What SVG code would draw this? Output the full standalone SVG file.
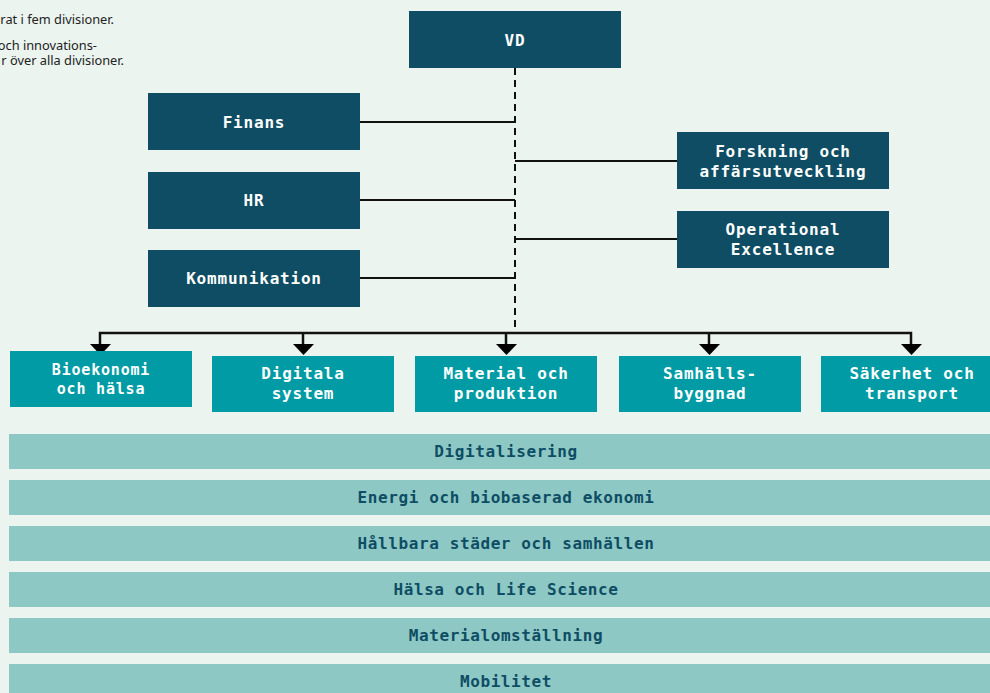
<svg xmlns="http://www.w3.org/2000/svg" width="990" height="693" viewBox="0 0 990 693">
<defs>
<style>
.bg{fill:#EBF4EF}
.dark{fill:#0E4D63}
.div{fill:#009BA4}
.band{fill:#8DC8C5}
.t{font-family:"DejaVu Sans Mono","Liberation Mono",monospace;font-weight:bold;font-size:16px;letter-spacing:0.8px;text-anchor:middle;fill:#FFFFFF}
.tb{font-family:"DejaVu Sans Mono","Liberation Mono",monospace;font-weight:bold;font-size:16px;letter-spacing:0.6px;text-anchor:middle;fill:#0E4D63}
.note{font-family:"Noto Sans","Liberation Sans",sans-serif;font-size:12.8px;fill:#222222;text-anchor:end}
.ln{stroke:#111111;stroke-width:2;fill:none}
.dash{stroke:#111111;stroke-width:2;fill:none;stroke-dasharray:7 5}
.ah{fill:#000000}
</style>
</defs>
<rect class="bg" x="0" y="0" width="990" height="693"/>
<g id="notes">
<text class="note" x="114" y="24">rat i fem divisioner.</text>
<text class="note" x="97" y="50">och innovations-</text>
<text class="note" x="124" y="65">r över alla divisioner.</text>
</g>
<g id="connectors">
<line class="dash" x1="515" y1="68" x2="515" y2="333"/>
<line class="ln" x1="360" y1="122" x2="515" y2="122"/>
<line class="ln" x1="360" y1="200" x2="515" y2="200"/>
<line class="ln" x1="360" y1="278" x2="515" y2="278"/>
<line class="ln" x1="515" y1="161" x2="677" y2="161"/>
<line class="ln" x1="515" y1="239" x2="677" y2="239"/>
<polyline class="ln" points="100,345 100,333 911,333 911,345" style="stroke-width:2.5"/>
<line class="ln" x1="303" y1="333" x2="303" y2="345" style="stroke-width:2.5"/>
<line class="ln" x1="506" y1="333" x2="506" y2="345" style="stroke-width:2.5"/>
<line class="ln" x1="709" y1="333" x2="709" y2="345" style="stroke-width:2.5"/>
<polygon class="ah" points="90,344 111,344 100.5,355"/>
<polygon class="ah" points="293,344 314,344 303.5,355"/>
<polygon class="ah" points="496,344 517,344 506.5,355"/>
<polygon class="ah" points="699,344 720,344 709.5,355"/>
<polygon class="ah" points="901,344 922,344 911.5,355"/>
</g>
<g id="vd"><rect class="dark" x="409" y="11" width="212" height="57"/><text class="t" x="515" y="46">VD</text></g>
<g id="finans"><rect class="dark" x="148" y="93" width="212" height="57"/><text class="t" x="254" y="128">Finans</text></g>
<g id="hr"><rect class="dark" x="148" y="172" width="212" height="57"/><text class="t" x="254" y="206">HR</text></g>
<g id="kommunikation"><rect class="dark" x="148" y="250" width="212" height="57"/><text class="t" x="254" y="284">Kommunikation</text></g>
<g id="forskning"><rect class="dark" x="677" y="132" width="212" height="57"/><text class="t" x="783" y="157">Forskning och</text><text class="t" x="783" y="177">affärsutveckling</text></g>
<g id="operational"><rect class="dark" x="677" y="211" width="212" height="57"/><text class="t" x="783" y="235">Operational</text><text class="t" x="783" y="255">Excellence</text></g>
<g id="bioekonomi"><rect class="div" x="10" y="351" width="182" height="56"/><text class="t" x="101" y="375" style="font-size:15px">Bioekonomi</text><text class="t" x="101" y="394" style="font-size:15px">och hälsa</text></g>
<g id="digitala"><rect class="div" x="212" y="356" width="182" height="56"/><text class="t" x="303" y="379">Digitala</text><text class="t" x="303" y="399">system</text></g>
<g id="material"><rect class="div" x="415" y="356" width="182" height="56"/><text class="t" x="506" y="379">Material och</text><text class="t" x="506" y="399">produktion</text></g>
<g id="samhalls"><rect class="div" x="619" y="356" width="182" height="56"/><text class="t" x="710" y="379">Samhälls-</text><text class="t" x="710" y="399">byggnad</text></g>
<g id="sakerhet"><rect class="div" x="821" y="356" width="182" height="56"/><text class="t" x="912" y="379">Säkerhet och</text><text class="t" x="912" y="399">transport</text></g>
<g id="band-digitalisering"><rect class="band" x="9" y="434" width="990" height="35"/><text class="tb" x="506" y="457">Digitalisering</text></g>
<g id="band-energi"><rect class="band" x="9" y="480" width="990" height="35"/><text class="tb" x="506" y="503">Energi och biobaserad ekonomi</text></g>
<g id="band-hallbara"><rect class="band" x="9" y="526" width="990" height="35"/><text class="tb" x="506" y="549">Hållbara städer och samhällen</text></g>
<g id="band-halsa"><rect class="band" x="9" y="572" width="990" height="35"/><text class="tb" x="506" y="595">Hälsa och Life Science</text></g>
<g id="band-material"><rect class="band" x="9" y="618" width="990" height="35"/><text class="tb" x="506" y="641">Materialomställning</text></g>
<g id="band-mobilitet"><rect class="band" x="9" y="664" width="990" height="35"/><text class="tb" x="506" y="687">Mobilitet</text></g>
</svg>
